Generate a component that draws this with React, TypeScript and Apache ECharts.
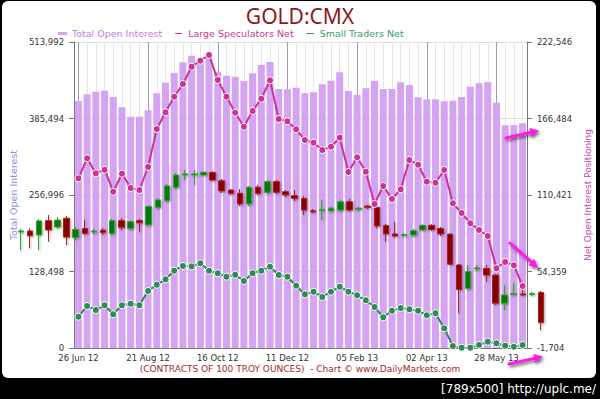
import React, { useEffect, useRef } from 'react';
import * as echarts from 'echarts';

const weeks = [
  '26 Jun 12', '03 Jul 12', '10 Jul 12', '17 Jul 12', '24 Jul 12', '31 Jul 12', '07 Aug 12', '14 Aug 12',
  '21 Aug 12', '28 Aug 12', '04 Sep 12', '11 Sep 12', '18 Sep 12', '25 Sep 12', '02 Oct 12', '09 Oct 12',
  '16 Oct 12', '23 Oct 12', '30 Oct 12', '06 Nov 12', '13 Nov 12', '20 Nov 12', '27 Nov 12', '04 Dec 12',
  '11 Dec 12', '18 Dec 12', '25 Dec 12', '01 Jan 13', '08 Jan 13', '15 Jan 13', '22 Jan 13', '29 Jan 13',
  '05 Feb 13', '12 Feb 13', '19 Feb 13', '26 Feb 13', '05 Mar 13', '12 Mar 13', '19 Mar 13', '26 Mar 13',
  '02 Apr 13', '09 Apr 13', '16 Apr 13', '23 Apr 13', '30 Apr 13', '07 May 13', '14 May 13', '21 May 13',
  '28 May 13', '04 Jun 13', '11 Jun 13', '18 Jun 13',
];

const candleWeeks = [
  '22 May 12', '29 May 12', '05 Jun 12', '12 Jun 12', '19 Jun 12',
  '26 Jun 12', '03 Jul 12', '10 Jul 12', '17 Jul 12', '24 Jul 12', '31 Jul 12', '07 Aug 12', '14 Aug 12',
  '21 Aug 12', '28 Aug 12', '04 Sep 12', '11 Sep 12', '18 Sep 12', '25 Sep 12', '02 Oct 12', '09 Oct 12',
  '16 Oct 12', '23 Oct 12', '30 Oct 12', '06 Nov 12', '13 Nov 12', '20 Nov 12', '27 Nov 12', '04 Dec 12',
  '11 Dec 12', '18 Dec 12', '25 Dec 12', '01 Jan 13', '08 Jan 13', '15 Jan 13', '22 Jan 13', '29 Jan 13',
  '05 Feb 13', '12 Feb 13', '19 Feb 13', '26 Feb 13', '05 Mar 13', '12 Mar 13', '19 Mar 13', '26 Mar 13',
  '02 Apr 13', '09 Apr 13', '16 Apr 13', '23 Apr 13', '30 Apr 13', '07 May 13', '14 May 13', '21 May 13',
  '28 May 13', '04 Jun 13', '11 Jun 13', '18 Jun 13', '25 Jun 13',
];

const openInterest = [
  414886, 426140, 430500, 432200, 421600, 404300, 388500, 388500, 399200, 427800, 445600, 461900, 479900,
  491000, 481000, 488000, 464100, 457400, 455700, 448500, 461400, 475400, 480400, 435000, 434500, 437200,
  427800, 429500, 442900, 449000, 463100, 431700, 425500, 436200, 448500, 435000, 435000, 446200, 441800,
  421100, 417700, 417700, 414400, 415400, 421600, 438900, 444600, 446800, 412000, 374100, 374600, 377400,
];

const largeSpeculators = [
  122660, 137300, 126300, 128960, 112840, 126030, 115550, 114080, 130940, 158790, 171030, 182460, 191770,
  204450, 208840, 213020, 194700, 182460, 170740, 160480, 171980, 180990, 194480, 166110, 164430, 158570,
  150730, 148750, 143400, 145820, 152410, 127280, 138050, 127500, 103830, 117010, 107490, 114600, 136070,
  132630, 120170, 119440, 128740, 104340, 97230, 89680, 84770, 80370, 56700, 61320, 58900, 43730,
];

const smallTraders = [
  21230, 29070, 26140, 29590, 22990, 29590, 30760, 29590, 40070, 44690, 48640, 54950, 58390,
  58170, 60370, 54950, 53040, 50550, 52010, 47400, 53040, 54950, 57880, 51790, 50550, 43950,
  37650, 39560, 35670, 39560, 43220, 39560, 36920, 33250, 28340, 20790, 25630, 27610, 26660,
  25630, 22260, 23720, 12730, -300, -1500, -1480, 494, 2910, 1740, -10, -750, 494,
];

// gold weekly candles: [open, close, low, high]
const goldCandles = [
  [1534, 1538, 1466, 1546], [1538, 1520, 1473, 1548], [1523, 1576, 1466, 1583], [1577, 1542, 1498, 1598],
  [1553, 1579, 1546, 1591], [1586, 1515, 1485, 1595], [1514, 1544, 1504, 1553], [1547, 1529, 1523, 1579],
  [1534, 1538, 1527, 1546], [1541, 1532, 1523, 1549], [1529, 1577, 1523, 1583], [1577, 1552, 1542, 1587],
  [1548, 1573, 1542, 1579], [1577, 1569, 1535, 1583], [1561, 1630, 1557, 1636], [1627, 1655, 1621, 1662],
  [1652, 1708, 1647, 1715], [1703, 1749, 1696, 1756], [1749, 1753, 1730, 1768], [1749, 1753, 1711, 1768],
  [1749, 1759, 1745, 1764], [1758, 1730, 1726, 1764], [1727, 1689, 1681, 1734], [1692, 1680, 1674, 1696],
  [1680, 1640, 1632, 1696], [1640, 1703, 1632, 1708], [1703, 1680, 1674, 1711], [1684, 1724, 1677, 1730],
  [1724, 1684, 1677, 1730], [1686, 1674, 1666, 1692], [1671, 1661, 1651, 1692], [1661, 1617, 1598, 1670],
  [1614, 1610, 1606, 1621], [1615, 1619, 1579, 1655], [1614, 1624, 1610, 1628], [1617, 1648, 1610, 1655],
  [1648, 1617, 1613, 1659], [1620, 1624, 1613, 1628], [1632, 1627, 1621, 1636], [1627, 1557, 1549, 1632],
  [1559, 1527, 1498, 1564], [1527, 1519, 1514, 1573], [1521, 1525, 1515, 1530], [1523, 1539, 1515, 1546],
  [1542, 1559, 1538, 1564], [1559, 1544, 1538, 1564], [1547, 1527, 1519, 1553], [1526, 1413, 1410, 1530],
  [1410, 1318, 1228, 1414], [1322, 1385, 1316, 1410], [1395, 1399, 1387, 1410], [1397, 1372, 1347, 1410],
  [1372, 1266, 1259, 1376], [1266, 1297, 1240, 1335], [1299, 1303, 1297, 1342], [1301, 1297, 1293, 1347],
  [1299, 1303, 1293, 1308], [1306, 1193, 1165, 1312],
];

const leftTicks = { min: 0, max: 513992, interval: 128498 };
const rightTicks = { min: -1704, max: 222546 };

const FONT = 'DejaVu Sans';
const fmt = (v: number) => Math.round(v).toLocaleString('en-US');

function arrow(x1: number, y1: number, x2: number, y2: number) {
  const dx = x2 - x1;
  const dy = y2 - y1;
  const len = Math.sqrt(dx * dx + dy * dy);
  const ux = dx / len;
  const uy = dy / len;
  const head = 9;
  const half = 4.5;
  const bx = x2 - ux * head;
  const by = y2 - uy * head;
  const color = '#ff1ee6';
  const shadow = { shadowBlur: 3, shadowColor: 'rgba(0,0,0,0.55)', shadowOffsetX: 1.5, shadowOffsetY: 2 };
  return [
    {
      type: 'line', silent: true, z: 50,
      shape: { x1, y1, x2: bx + ux, y2: by + uy },
      style: { stroke: color, lineWidth: 3, lineCap: 'round', ...shadow },
    },
    {
      type: 'polygon', silent: true, z: 51,
      shape: { points: [[x2, y2], [bx - uy * half, by + ux * half], [bx + uy * half, by - ux * half]] },
      style: { fill: color, ...shadow },
    },
  ];
}

export default function App() {
  const ref = useRef<HTMLDivElement>(null);
  useEffect(() => {
    const chart = echarts.init(ref.current!, null, { renderer: 'svg' });
    const option: any = {
      animation: false,
      backgroundColor: 'transparent',
      textStyle: { fontFamily: FONT },
      title: {
        text: 'GOLD:CMX', left: 'center', top: 5, padding: 0,
        textStyle: { color: '#8b1a1a', fontSize: 21, lineHeight: 22, fontWeight: 'normal', fontFamily: 'Noto Sans' },
      },
      legend: {
        left: 58, top: 28, padding: 0, itemWidth: 9, itemHeight: 3, itemGap: 11, selectedMode: false,
        textStyle: { fontFamily: FONT, fontSize: 9.5, lineHeight: 11 },
        data: [
          { name: 'Total Open Interest', icon: 'rect', textStyle: { color: '#c87ae8' } },
          { name: 'Large Speculators Net', icon: 'rect', textStyle: { color: '#c8379a' } },
          { name: 'Small Traders Net', icon: 'rect', textStyle: { color: '#3a9a6a' } },
        ],
      },
      grid: [
        { left: 62, right: 64, top: 42, bottom: 51 },
        { left: 16.4, right: 54.4, top: 42, bottom: 65 },
      ],
      xAxis: [
        {
          type: 'category', gridIndex: 0, data: weeks, boundaryGap: true,
          axisLine: { lineStyle: { color: '#777' } },
          axisTick: { interval: 0, length: 4, lineStyle: { color: '#777' } },
          axisLabel: { interval: 7, color: '#333', fontSize: 8.5, fontFamily: FONT, margin: 5 },
          splitLine: { show: true, interval: 0, alignWithLabel: true, lineStyle: { color: '#e6e6e6' } },
        },
        {
          type: 'category', gridIndex: 0, data: weeks, boundaryGap: true, position: 'bottom',
          axisLine: { show: false }, axisTick: { show: false }, axisLabel: { show: false },
          splitLine: { show: true, interval: 7, alignWithLabel: true, lineStyle: { color: '#9c9cb4' } },
        },
        {
          type: 'category', gridIndex: 1, data: candleWeeks, boundaryGap: true,
          axisLine: { show: true, lineStyle: { color: '#d4d4d4', width: 2, shadowBlur: 3, shadowColor: 'rgba(0,0,0,0.15)', shadowOffsetY: 1 } },
          axisTick: { show: false }, axisLabel: { show: false }, splitLine: { show: false },
        },
      ],
      yAxis: [
        {
          type: 'value', gridIndex: 0, position: 'left', ...leftTicks,
          name: 'Total Open Interest', nameLocation: 'middle', nameGap: 53,
          nameTextStyle: { color: '#8c8ce0', fontSize: 9.5, fontFamily: FONT },
          axisLine: { show: true, lineStyle: { color: '#777' } },
          axisTick: { show: true, length: 5, lineStyle: { color: '#777' } },
          axisLabel: { color: '#333', fontSize: 8.5, fontFamily: FONT, margin: 10, formatter: fmt },
          splitLine: { show: true, lineStyle: { color: '#dcdcdc' } },
        },
        {
          type: 'value', gridIndex: 0, position: 'right', ...rightTicks, alignTicks: true,
          name: 'Net Open Interest Positioning', nameLocation: 'middle', nameGap: 52,
          nameTextStyle: { color: '#cc44aa', fontSize: 9, fontFamily: FONT },
          axisLine: { show: true, lineStyle: { color: '#777' } },
          axisTick: { show: true, length: 5, lineStyle: { color: '#777' } },
          axisLabel: { color: '#333', fontSize: 8.5, fontFamily: FONT, margin: 10, formatter: fmt },
          splitLine: { show: false },
        },
        { type: 'value', gridIndex: 1, min: 1150, max: 2250, show: false, splitLine: { show: false } },
      ],
      series: [
        {
          name: 'Total Open Interest', type: 'bar', xAxisIndex: 0, yAxisIndex: 0, data: openInterest,
          barWidth: 7, itemStyle: { color: '#d4a3f1' }, z: 2,
        },
        {
          name: 'Gold', type: 'candlestick', xAxisIndex: 2, yAxisIndex: 2, data: goldCandles, barWidth: 6, z: 3,
          itemStyle: {
            color: '#0a740a', color0: '#870000', borderColor: '#2fa82f', borderColor0: '#b02020', borderWidth: 1,
            shadowBlur: 2, shadowColor: 'rgba(0,0,0,0.35)', shadowOffsetX: 1, shadowOffsetY: 1,
          },
        },
        {
          name: 'Large Speculators Net', type: 'line', xAxisIndex: 0, yAxisIndex: 1, data: largeSpeculators,
          symbol: 'circle', symbolSize: 7, showSymbol: true, showAllSymbol: true, clip: false, z: 4,
          lineStyle: { color: '#cc3399', width: 2 },
          itemStyle: { color: '#cc3399', borderColor: '#ffffff', borderWidth: 1 },
        },
        {
          name: 'Small Traders Net', type: 'line', xAxisIndex: 0, yAxisIndex: 1, data: smallTraders,
          symbol: 'circle', symbolSize: 7, showSymbol: true, showAllSymbol: true, clip: false, z: 4,
          lineStyle: { color: '#2e8b57', width: 2 },
          itemStyle: { color: '#2e8b57', borderColor: '#ffffff', borderWidth: 1 },
        },
      ],
      graphic: [
        {
          type: 'rect', silent: true, z: -100,
          shape: { x: 2, y: 1, width: 594, height: 377, r: 6 },
          style: { fill: '#ffffff' },
        },
        {
          type: 'text', silent: true, z: 10, x: 300, y: 369,
          style: {
            text: '(CONTRACTS OF 100 TROY OUNCES)  - Chart \u00a9 www.DailyMarkets.com',
            fill: '#a42a2a', fontSize: 9, fontFamily: FONT, align: 'center', verticalAlign: 'middle',
          },
        },
        {
          type: 'text', silent: true, z: 10, x: 596, y: 389,
          style: {
            text: '[789x500] http://uplc.me/', fill: '#ffffff', fontSize: 12, fontFamily: FONT,
            align: 'right', verticalAlign: 'middle',
          },
        },
        ...arrow(506, 138, 539, 130.5),
        ...arrow(510, 243, 538, 268),
        ...arrow(509, 364, 543, 356.5),
      ],
    };
    chart.setOption(option);
    return () => chart.dispose();
  }, []);
  return (
    <div style={{ position: 'fixed', left: 0, top: 0, width: 600, height: 399, background: '#000' }}>
      <div ref={ref} style={{ width: 600, height: 399 }} />
    </div>
  );
}
